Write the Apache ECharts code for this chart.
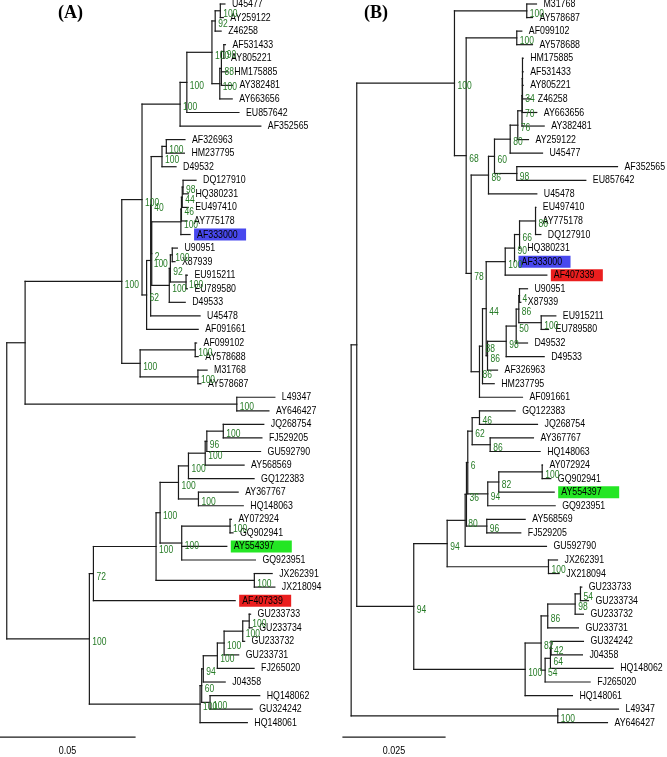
<!DOCTYPE html>
<html>
<head>
<meta charset="utf-8">
<script src="https://cdn.jsdelivr.net/npm/echarts@6/dist/echarts.min.js"></script>
<style>
  body { margin: 0; background: #fff; }
  #chart { width: 667px; height: 757px; }
</style>
</head>
<body>
<div id="chart"></div>
<script>
// trees in newick, branch lengths in substitutions/site, bootstrap values as node labels
const newickA = [
  '(((((((',
  '((U45477:0.0017,AY259122:0.0011)100:0.0019,Z46258:0.0022)92:0.0012,',
  '(((AF531433:0.0006,AY805221:0.0001)90:0.0009,HM175885:0.0022,AY382481:0.0041)88:0.0006,AY663656:0.0046)100:0.0029',
  ')100:0.0093,EU857642:0.0193)100:0.0025,AF352565:0.0299)100:0.0141,',
  '(((',
  '((AF326963:0.0069,HM237795:0.0067)100:0.0016,D49532:0.0052)100:0.0040,',
  '(',
  '((((DQ127910:0.0048,HQ380231:0.0020)98:0.0003,EU497410:0.0022)44:0.0003,AY775178:0.0021)46:0.0002,AF333000:0.0034)100:0.0108,',
  '(((U90951:0.0019,X87939:0.0010)100:0.0007,(EU915211:0.0005,EU789580:0.0005)100:0.0058)92:0.0004,D49533:0.0059)100:0.0065',
  ')2:0.0002)40:0.0002,U45478:0.0183)100:0.0015,AF091661:0.0191)62:0.0017',
  ')100:0.0075,',
  '((AF099102:0.0005,AY578688:0.0011)100:0.0204,(M31768:0.0034,AY578687:0.0011)100:0.0214)100:0.0068',
  ')100:0.0358,',
  '(L49347:0.0141,AY646427:0.0119)100:0.0784',
  '):0.0068,',
  '(((((',
  '((((JQ268754:0.0150,FJ529205:0.0143)100:0.0061,GU592790:0.0199)96:0.0006,AY568569:0.0144)100:0.0062,GQ122383:0.0243)100:0.0037,',
  '(AY367767:0.0147,HQ148063:0.0166)100:0.0074)100:0.0068,',
  '((AY072924:0.0005,GQ902941:0.0011)100:0.0179,AY554397:0.0167,GQ923951:0.0273)100:0.0080)100:0.0015,',
  '(JX262391:0.0066,JX218094:0.0076)100:0.0364)100:0.0232,',
  'AF407339:0.0525)72:0.0015,',
  '(((',
  '((((GU233733:0.0005,GU233734:0.0011)100:0.0024,GU233732:0.0007)100:0.0069,GU233731:0.0054)100:0.0025,FJ265020:0.0136)100:0.0052,',
  'J04358:0.0081)94:0.0006,(HQ148062:0.0184,GU324242:0.0156)100:0.0031)60:0.0006,',
  'HQ148061:0.0175)100:0.0410',
  ')100:0.0306);'
].join('')

const newickB = [
  '(((',
  '(M31768:0.00238,AY578687:0.0014)100:0.01772,',
  '(',
  '(AF099102:0.00123,AY578688:0.00385)100:0.0124,',
  '(',
  '((',
  '((((',
  '(HM175885:0.00017,AF531433:0.00017,AY805221:0.00017,Z46258:0.00203):0.00005,',
  'AY663656:0.00355)34:0.00007,AY382481:0.00544)70:0.00103,AY259122:0.00262)76:0.00186,U45477:0.00792)80:0.00385,',
  '(AF352565:0.02468,EU857642:0.01691)98:0.00547)60:0.00147,',
  'U45478:0.01184)86:0.00424,',
  '(((',
  '(((',
  '(EU497410:0.00007,AY775178:0,DQ127910:0.0013)86:0.00392,',
  'HQ380231:0.00017)66:0.00123,AF333000:0)90:0.00228,AF407339:0.0102)100:0.00466,',
  '((((',
  '(U90951:0.00196,X87939:0.00032)4:0.00017,(EU915211:0.00358,EU789580:0.00179)100:0.00549)86:0.00064,',
  'D49532:0.00277)50:0.00245,D49533:0.00931)98:0.00458,AF326963:0.00245)86:0.00032',
  ')44:0.00091,HM237795:0.00287)88:0.00074,AF091661:0.01054)86:0.00203',
  ')78:0.00123',
  ')68:0.00287',
  ')100:0.02395,',
  '((',
  '((',
  '((',
  '(GQ122383:0.00875,JQ268754:0.01422)46:0.00179,(AY367767:0.01061,HQ148063:0.01225)86:0.00441)62:0.00108,',
  '(((AY072924:0.00007,GQ902941:0.00211)100:0.01064,AY554397:0.01358)82:0.0027,GQ923951:0.01652)94:0.0049)6:0.00032,',
  '(AY568569:0.00941,FJ529205:0.00833)96:0.00498)36:0.00032,GU592790:0.01993)80:0.00441,',
  '(JX262391:0.00221,JX218094:0.00262)100:0.02483)94:0.00819,',
  '((',
  '(((GU233733:0.00032,GU233734:0.00196)54:0.0013,GU233732:0.00203)98:0.00672,GU233731:0.00752)86:0.00162,',
  '(((GU324242:0.00792,J04358:0.00767)42:0.00017,HQ148062:0.01537)64:0.0013,FJ265020:0.01103)54:0.00098',
  ')82:0.00392,HQ148061:0.01159)100:0.0273',
  ')94:0.01397',
  '):0.00137,',
  '(L49347:0.01488,AY646427:0.01218)100:0.05064',
  ');'
].join('')

// highlighted isolates: [box colour, box width]
const highlighted = {
  AF333000: ['#4848ee', 52],
  AF407339: ['#ea1e1e', 52],
  AY554397: ['#24e624', 61]
}
const panelTitles = ['(A)', '(B)']
const scaleBars = [0.05, 0.025]
const xMins = [-0.0025, -0.002]
const xMaxs = [0.0975, 0.068]

const GREEN = '#257a25'
const FONT = '"Liberation Sans", Arial, sans-serif'
const branchStyle = { stroke: '#1a1a1a', lineWidth: 1.2, lineCap: 'square' }

function parseNewick(str) {
  let i = 0
  function read() {
    const node = { children: [], label: '', len: 0 }
    if (str[i] === '(') {
      i++
      do { node.children.push(read()) } while (str[i++] === ',')
    }
    while (i < str.length && ':,();'.indexOf(str[i]) < 0) node.label += str[i++]
    if (str[i] === ':') {
      i++
      let num = ''
      while (i < str.length && ',();'.indexOf(str[i]) < 0) num += str[i++]
      node.len = parseFloat(num)
    }
    return node
  }
  return read()
}

function layoutTree(root) {
  const nodes = []
  let tip = 0
  function walk(n, parentDepth) {
    n.pdepth = parentDepth
    n.depth = parentDepth + n.len
    if (n.children.length) {
      n.children.forEach(c => walk(c, n.depth))
      n.y0 = n.children[0].y
      n.y1 = n.children[n.children.length - 1].y
      n.y = (n.y0 + n.y1) / 2
    } else {
      n.y = ++tip
    }
    nodes.push(n)
  }
  root.len = 0
  root.isRoot = true
  walk(root, 0)
  return nodes
}

function textEl(x, y, text, size, sx, color, align) {
  return {
    type: 'text', x: x, y: y, scaleX: sx,
    style: {
      text: text, fill: color, font: size + 'px ' + FONT,
      fontSize: size, fontFamily: FONT,
      align: align || 'left', textAlign: align || 'left',
      verticalAlign: 'middle', textVerticalAlign: 'middle'
    }
  }
}

function treeRenderer(nodes) {
  return function (params, api) {
    const n = nodes[params.dataIndex]
    const p = api.coord([n.depth, n.y])
    const parts = []
    if (!n.isRoot) {
      const q = api.coord([n.pdepth, n.y])
      parts.push({ type: 'line', shape: { x1: q[0], y1: q[1], x2: p[0], y2: p[1] }, style: branchStyle })
    }
    if (n.children.length) {
      const a = api.coord([n.depth, n.y0])
      const b = api.coord([n.depth, n.y1])
      parts.push({ type: 'line', shape: { x1: a[0], y1: a[1], x2: b[0], y2: b[1] }, style: branchStyle })
      if (n.label && !n.isRoot) parts.push(textEl(p[0] + 3, p[1] + 3.5, n.label, 10, 0.85, GREEN))
    } else {
      const hl = highlighted[n.label]
      if (hl) {
        parts.push({ type: 'rect', shape: { x: p[0] + 4, y: p[1] - 6, width: hl[1], height: 12 }, style: { fill: hl[0] } })
      }
      parts.push(textEl(p[0] + 7, p[1], n.label, 11, 0.8, '#000'))
    }
    return { type: 'group', children: parts }
  }
}

function scaleRenderer(k) {
  return function (params, api) {
    const v = api.value(0)
    const a = api.coord([xMins[k], 55.06])
    const b = api.coord([xMins[k] + v, 55.06])
    return {
      type: 'group',
      children: [
        { type: 'line', shape: { x1: a[0], y1: a[1], x2: b[0], y2: b[1] }, style: branchStyle },
        textEl((a[0] + b[0]) / 2, a[1] + 14, String(v), 10.5, 0.85, '#000', 'center')
      ]
    }
  }
}

const treeNodes = [newickA, newickB].map(s => layoutTree(parseNewick(s)))

const chart = echarts.init(document.getElementById('chart'))
chart.setOption({
  animation: false,
  backgroundColor: '#fff',
  title: [
    { text: panelTitles[0], left: 58, top: 4, padding: 0,
      textStyle: { fontFamily: 'Liberation Serif', fontWeight: 'bold', fontSize: 18, color: '#000' } },
    { text: panelTitles[1], left: 364, top: 4, padding: 0,
      textStyle: { fontFamily: 'Liberation Serif', fontWeight: 'bold', fontSize: 18, color: '#000' } }
  ],
  grid: [
    { left: 0, top: 4, width: 270, height: 718.7 },
    { left: 343, top: 4, width: 285.6, height: 718.7 }
  ],
  xAxis: [0, 1].map(k => ({ type: 'value', gridIndex: k, min: xMins[k], max: xMaxs[k], show: false })),
  yAxis: [0, 1].map(k => ({ type: 'value', gridIndex: k, min: 1, max: 54, inverse: true, show: false })),
  series: [
    ...treeNodes.map((nodes, k) => ({
      type: 'custom', xAxisIndex: k, yAxisIndex: k,
      data: nodes.map(n => [n.depth, n.y]),
      renderItem: treeRenderer(nodes)
    })),
    ...scaleBars.map((v, k) => ({
      type: 'custom', xAxisIndex: k, yAxisIndex: k,
      data: [[v]],
      renderItem: scaleRenderer(k)
    }))
  ]
})
</script>
</body>
</html>
